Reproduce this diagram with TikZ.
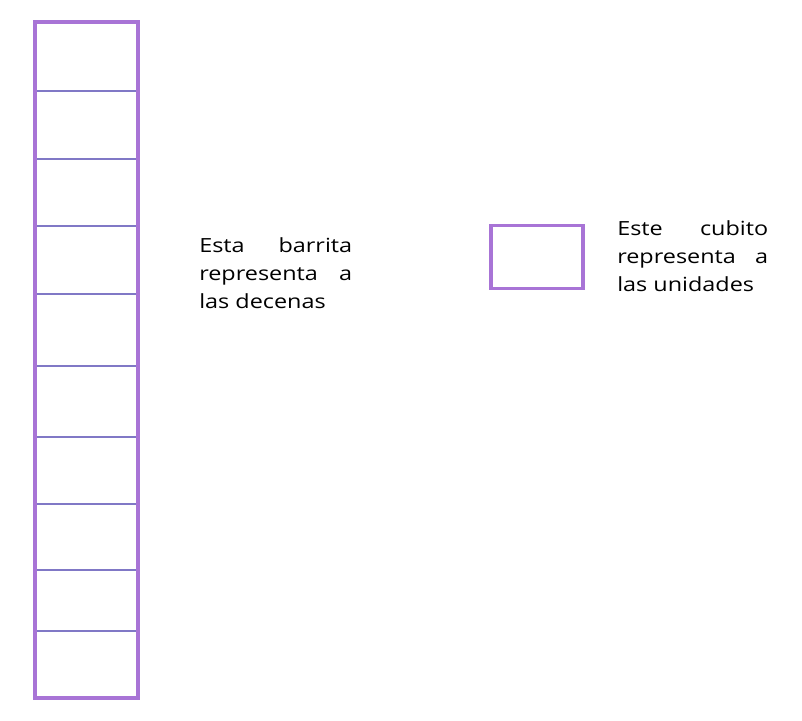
\documentclass[tikz,border=0pt]{standalone}
\usepackage{fontspec}
\setmainfont{Open Sans}[FakeStretch=1.2]
\definecolor{barpurple}{RGB}{168,116,214}
\definecolor{linepurple}{RGB}{128,120,198}

\begin{document}
\begin{tikzpicture}[x=1pt, y=-1pt, line width=0.5pt]
\tikzset{
  outline/.style={draw=barpurple, line width=3.4pt},
  divider/.style={draw=linepurple, line width=2.6pt},
  caption/.style={anchor=north west, align=justify, text width=153pt, inner sep=0pt,
    font=\fontsize{19.5}{28}\selectfont}
}
\useasboundingbox (0,0) rectangle (802,720);

% barrita de diez cubitos
\draw[outline] (35,22) rectangle (138,698);
\foreach \yy in {91,159,226,294,366,437,504,570,631}
  \draw[divider] (37,\yy) -- (136,\yy);

% cubito
\draw[outline] (491,225.5) rectangle (583,288.5);

\node[caption] (decenas) at (199,237) {Esta barrita\linebreak representa a\linebreak las decenas};
\node[caption, text width=151pt] (unidades) at (617,220.5) {Este cubito\linebreak representa a\linebreak las unidades};
\end{tikzpicture}
\end{document}
